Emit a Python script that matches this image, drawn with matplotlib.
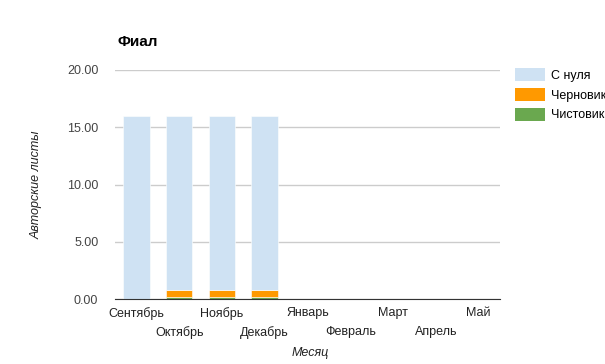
import numpy as np
import matplotlib.pyplot as plt
from matplotlib.patches import Patch

plt.rcParams['font.family'] = ['Liberation Sans', 'DejaVu Sans']

# Данные
months = ["Сентябрь", "Октябрь", "Ноябрь", "Декабрь", "Январь",
          "Февраль", "Март", "Апрель", "Май"]
s_nulya = [16.0, 15.25, 15.25, 15.25, 0, 0, 0, 0, 0]
chernovik = [0, 0.6, 0.6, 0.6, 0, 0, 0, 0, 0]
chistovik = [0, 0.15, 0.15, 0.15, 0, 0, 0, 0, 0]

c_blue = "#cfe2f3"
c_orange = "#ff9900"
c_green = "#6aa84f"

fig = plt.figure(figsize=(6.05, 3.64), dpi=100)
ax = fig.add_axes([115 / 605, 1 - 299 / 364, 385 / 605, 229 / 364])

x = np.arange(len(months))
w = 0.62
ax.bar(x, chistovik, w, color=c_green, edgecolor="white", linewidth=0.4, zorder=3)
ax.bar(x, chernovik, w, bottom=chistovik, color=c_orange, edgecolor="white",
       linewidth=0.4, zorder=3)
bottom2 = np.array(chistovik) + np.array(chernovik)
ax.bar(x, s_nulya, w, bottom=bottom2, color=c_blue, edgecolor="white",
       linewidth=0.4, zorder=3)

ax.set_xlim(-0.5, len(months) - 0.5)
ax.set_ylim(0, 20)
ax.set_yticks([0, 5, 10, 15, 20])
ax.set_yticklabels(["%.2f" % v for v in [0, 5, 10, 15, 20]])
ax.tick_params(axis="y", length=0, pad=12, labelsize=9, labelcolor="#444444")
ax.grid(axis="y", color="#cccccc", linewidth=1, zorder=0)
for s in ["top", "right", "left"]:
    ax.spines[s].set_visible(False)
ax.spines["bottom"].set_color("#333333")
ax.spines["bottom"].set_zorder(4)

ax.set_xticks(x)
ax.set_xticklabels([])
ax.tick_params(axis="x", length=0)
for i, m in enumerate(months):
    yy = -0.062 if i % 2 == 0 else -0.145
    ax.text(i, yy, m, transform=ax.get_xaxis_transform(), ha="center", va="center",
            fontsize=9, color="#222222")

fig.text(117 / 605, 1 - 42 / 364, "Фиал", fontsize=11, fontweight="bold",
         ha="left", va="center")
fig.text(37 / 605, 1 - 185 / 364, "Авторские листы", rotation=90, style="italic",
         fontsize=9, color="#222222", ha="center", va="center")
fig.text(310 / 605, 1 - 353 / 364, "Месяц", style="italic", fontsize=9,
         color="#222222", ha="center", va="center")

handles = [Patch(facecolor=c_blue), Patch(facecolor=c_orange), Patch(facecolor=c_green)]
fig.legend(handles, ["С нуля", "Черновик", "Чистовик"], loc="upper left",
           bbox_to_anchor=(515 / 605, 1 - 68 / 364), frameon=False, fontsize=9,
           handlelength=2.4, handleheight=1.2, handletextpad=0.5, labelspacing=0.5,
           borderaxespad=0, borderpad=0)

fig.savefig("out.png", dpi=100)
